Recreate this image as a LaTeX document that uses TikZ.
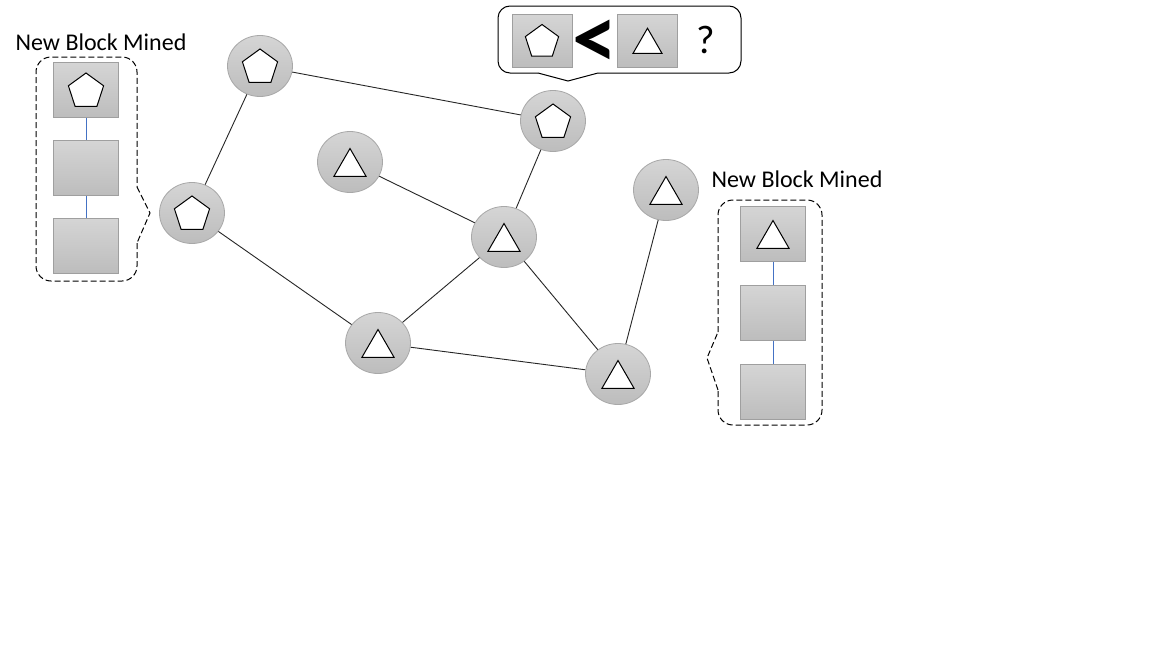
\documentclass[tikz,border=0pt]{standalone}
\usepackage{fontspec}
\setmainfont{Carlito}
\usetikzlibrary{shapes,positioning}
\definecolor{chainblue}{HTML}{4472C4}
\tikzset{
  peer/.style   = {ellipse, minimum width=65pt, minimum height=61pt, inner sep=0pt,
                   draw=gray!68, line width=0.8pt, top color=gray!33, bottom color=gray!52},
  block/.style  = {rectangle, minimum width=65pt, minimum height=55pt, inner sep=0pt,
                   draw=gray!75, line width=0.8pt, top color=gray!33, bottom color=gray!52},
  cmp/.style    = {block, minimum width=60pt, minimum height=53pt},
  penta/.style  = {regular polygon, regular polygon sides=5, minimum size=37pt,
                   inner sep=0pt, draw, line width=1pt, fill=white, yshift=-1.5pt},
  tri/.style    = {regular polygon, regular polygon sides=3, minimum size=37pt,
                   inner sep=0pt, draw, line width=1pt, fill=white, yshift=-5pt},
  frame/.style  = {draw, line width=1pt, dash pattern=on 6pt off 3pt},
  link/.style   = {draw=black!85, line width=0.9pt},
  chain/.style  = {draw=chainblue, line width=0.9pt},
  title/.style  = {font=\fontsize{24}{28}\selectfont, inner sep=0pt}
}

\begin{document}
\begin{tikzpicture}[x=1pt, y=-1pt]
  \useasboundingbox[fill=white] (0,0) rectangle (1152,648);

  % peers of the network
  \node[peer] (p1) at (260,66)  {};
  \node[peer] (p2) at (192,213) {};
  \node[peer] (p3) at (553,121) {};
  \node[peer] (t1) at (350,162) {};
  \node[peer] (t2) at (504,237) {};
  \node[peer] (t3) at (666,190) {};
  \node[peer] (t4) at (378,343) {};
  \node[peer] (t5) at (618,374) {};

  % links between the peers
  \foreach \a/\b in {p1/p3, p1/p2, p2/t4, t4/t2, t2/p3, t1/t2, t2/t5, t4/t5, t3/t5}
    \draw[link] (\a) -- (\b);

  % chain mined on the left
  \node[title] (lt) at (101,42) {New Block Mined};
  \node[block] (lb1) at (86,90) {};
  \node[block, below=22pt of lb1] (lb2) {};
  \node[block, below=22pt of lb2] (lb3) {};
  \draw[chain] (lb1) -- (lb2) (lb2) -- (lb3);
  \draw[frame, rounded corners=15pt] (137,243) -- (137,281) -- (36,281) -- (36,57)
    -- (137,57) -- (137,187);
  \draw[frame] (137,187) -- (150,213) -- (137,243);

  % chain mined on the right
  \node[title] (rt) at (797,179) {New Block Mined};
  \node[block] (rb1) at (773,234) {};
  \node[block, below=23pt of rb1] (rb2) {};
  \node[block, below=23pt of rb2] (rb3) {};
  \draw[chain] (rb1) -- (rb2) (rb2) -- (rb3);
  \draw[frame, rounded corners=15pt] (718,332) -- (718,200) -- (822,200) -- (822,425)
    -- (718,425) -- (718,390);
  \draw[frame] (718,390) -- (707,358) -- (718,332);

  % question bubble over p3
  \draw[line width=1pt, rounded corners=12pt] (538,73) -- (498,73) -- (498,6)
    -- (741,6) -- (741,73) -- (598,73);
  \draw[line width=1pt] (598,73) -- (568,81) -- (538,73);
  \node[cmp] (c1) at (542,40.5) {};
  \node[cmp] (c2) at (647.5,40.5) {};
  \node[font=\fontsize{90}{90}\selectfont\bfseries, inner sep=0pt] (lt2) at (594.5,44.5) {<};
  \node[font=\fontsize{40}{40}\selectfont, inner sep=0pt] (qm) at (706,40) {?};

  % symbols on peers and blocks
  \foreach \n in {p1,p2,p3,lb1}
    \node[penta] (\n s) at (\n) {};
  \foreach \n in {t1,t2,t3,t4,t5,rb1}
    \node[tri] (\n s) at (\n) {};
  \node[penta, minimum size=35pt] (c1s) at (c1) {};
  \node[tri, minimum size=33.5pt, yshift=0.5pt] (c2s) at (c2) {};
\end{tikzpicture}
\end{document}
